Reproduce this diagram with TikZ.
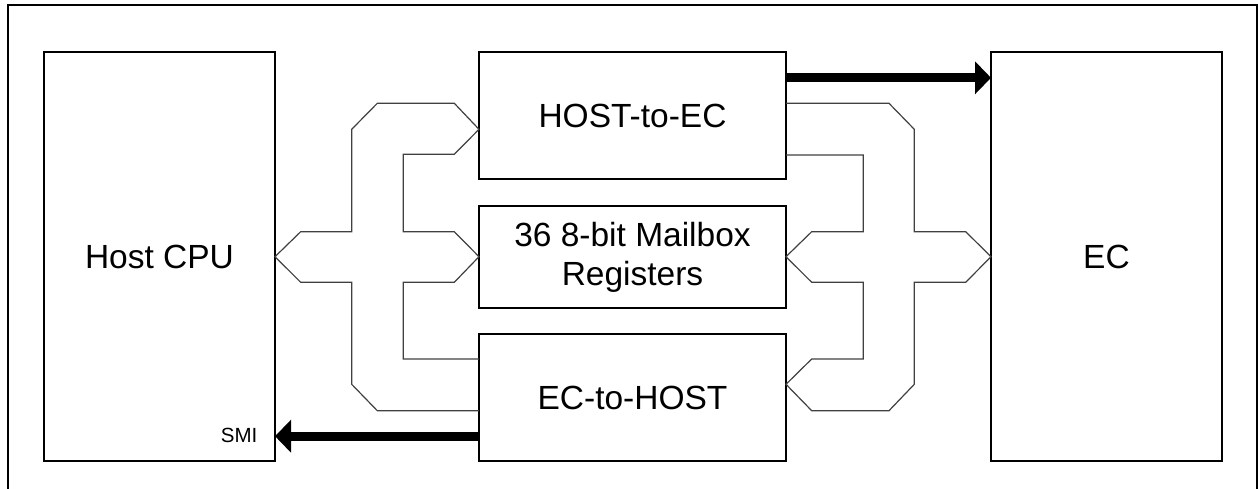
\documentclass[tikz,border=0pt]{standalone}
\usepackage{fontspec}
\setmainfont{Liberation Sans}
\usetikzlibrary{arrows.meta,calc}
\begin{document}
\begin{tikzpicture}[x=1pt,y=-1pt,
  blk/.style={draw,line width=2pt,inner sep=0pt,outer sep=0pt,align=center,
              font=\fontsize{33.5}{39}\selectfont},
  bus/.style={draw=black!75,line width=1.2pt,line join=miter},
  fat/.style={line width=9pt,-{Triangle[length=16pt,width=32pt]}},
  small/.style={inner sep=0pt,font=\fontsize{20.5}{24}\selectfont}]
\useasboundingbox (0,0) rectangle (1258,489);
% outer frame (open at bottom)
\draw[line width=2pt] (8,495) -- (8,5.5) -- (1257,5.5) -- (1257,495);
% blocks
\node[blk,minimum width=231pt,minimum height=409pt] (host) at (159.5,256.5) {Host CPU};
\node[blk,minimum width=307pt,minimum height=127pt] (hte) at (632.5,115.5) {HOST-to-EC};
\node[blk,minimum width=307pt,minimum height=102pt] (mb) at (632.5,257) {36 8-bit Mailbox\\Registers};
\node[blk,minimum width=307pt,minimum height=127pt] (eth) at (632.5,397.5) {EC-to-HOST};
\node[blk,minimum width=231pt,minimum height=409pt] (ec) at (1106.5,256.5) {EC};
\node[small,anchor=east] (smi) at (257.5,435.5) {SMI};
% left bus
\draw[bus] (479,410.7) -- (377.3,410.7) -- (351.7,384.3) -- (351.7,282.3)
  -- (300.7,282.3) -- (275,256.7) -- (300.7,231.7) -- (351.7,231.7)
  -- (351.7,129.3) -- (377.3,103.3) -- (454.3,103.3) -- (479,129.3)
  -- (454.3,154.3) -- (403.3,154.3) -- (403.3,231.7) -- (454.3,231.7)
  -- (479,256.7) -- (454.3,282.3) -- (403.3,282.3) -- (403.3,359) -- (479,359);
% right bus
\draw[bus] (786,103.3) -- (889,103.3) -- (914.3,129.3) -- (914.3,231.7)
  -- (965.7,231.7) -- (991,256.7) -- (965.7,282.3) -- (914.3,282.3)
  -- (914.3,384.3) -- (889,410.7) -- (811.7,410.7) -- (786,384.3)
  -- (811.7,359) -- (863.3,359) -- (863.3,282.3) -- (811.7,282.3)
  -- (786,256.7) -- (811.7,231.7) -- (863.3,231.7) -- (863.3,155) -- (786,155);
% thick arrows
\coordinate (t1) at (0,77.8);
\coordinate (b1) at (0,436.2);
\draw[fat] (hte.east |- t1) -- (ec.west |- t1);
\draw[fat] (eth.west |- b1) -- (host.east |- b1);
\end{tikzpicture}
\end{document}
